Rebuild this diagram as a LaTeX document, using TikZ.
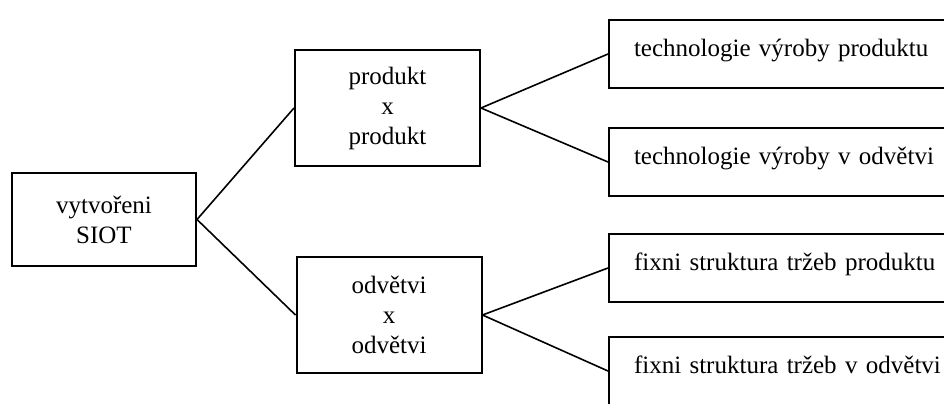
\documentclass[tikz,border=0pt]{standalone}
\usepackage{fontspec}
\setmainfont{Liberation Serif}
\usetikzlibrary{positioning}

\begin{document}
\begin{tikzpicture}[x=0.5pt, y=-0.5pt, font=\fontsize{12.5}{15}\selectfont,
	box/.style={draw, line width=1pt, inner sep=0pt, align=center},
	leftbox/.style={box, minimum width=92pt, minimum height=46.5pt},
	midbox/.style={box, minimum width=92.5pt, minimum height=58pt},
	rightbox/.style={box, anchor=west, align=left, text width=220pt, inner xsep=12.5pt,
		text height=18pt, text depth=16pt},
	link/.style={line width=0.8pt}]
\useasboundingbox (0,0) rectangle (944,403);
\clip (0,0) rectangle (944,403);

				\node[leftbox] (siot) at (104, 219.5) {vytvořeni\\SIOT};
				
				\node[midbox] (pp) at (387.5, 108) {produkt\\x\\produkt};
				\node[midbox] (oo) at (389, 315) {odvětvi\\x\\odvětvi};
				
				\node[rightbox] (techprod) at (608,  54) {technologie výroby produktu};
				\node[rightbox] (techodv)  at (608, 162) {technologie výroby v odvětvi};
				\node[rightbox] (fixprod)  at (608, 268) {fixni struktura tržeb produktu};
				\node[rightbox] (fixodv)   at (608, 371) {fixni struktura tržeb v odvětvi};
				
				\draw[link] (siot.east) -- (pp.west);
				\draw[link] (siot.east) -- (oo.west);
				
				\draw[link] (pp.east) -- (techprod.west);
				\draw[link] (pp.east) -- (techodv.west);
				\draw[link] (oo.east) -- (fixprod.west);
				\draw[link] (oo.east) -- (fixodv.west);

\end{tikzpicture}
\end{document}
